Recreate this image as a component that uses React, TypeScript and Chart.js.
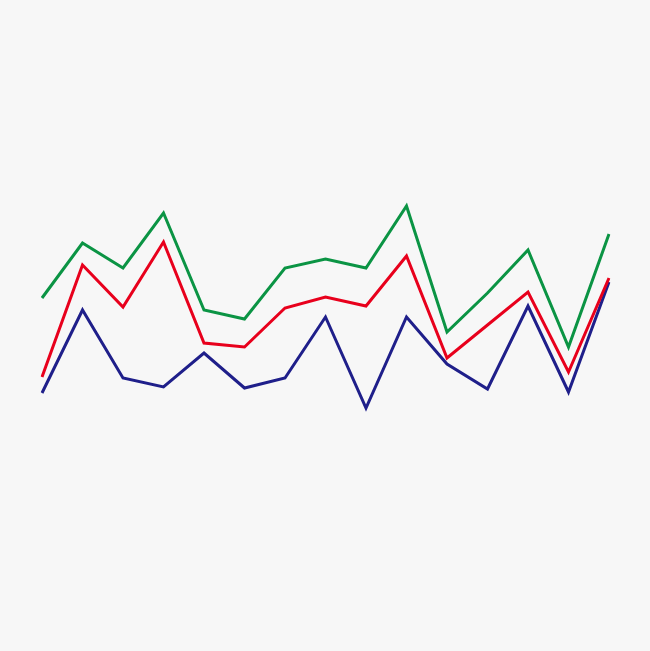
import React, { useRef, useEffect } from 'react';
import { Chart, registerables } from 'chart.js';

Chart.register(...registerables);

const labels = ['1', '2', '3', '4', '5', '6', '7', '8', '9', '10', '11', '12', '13', '14', '15'];
const greenValues = [353, 408, 383, 438, 341, 332, 383, 392, 383, 445, 319, 358, 401, 304, 417];
const redValues = [274, 386, 344, 409, 308, 304, 343, 354, 345, 395, 293, 326, 359, 279, 373];
const blueValues = [258, 341, 273, 264, 298, 263, 273, 334, 243, 334, 287, 262, 345, 259, 369];

const App: React.FC = () => {
  const chartRef = useRef<HTMLCanvasElement | null>(null);
  const chartInstance = useRef<Chart | null>(null);

  useEffect(() => {
    document.body.style.margin = '0';
    if (!chartRef.current) return;
    if (chartInstance.current) chartInstance.current.destroy();

    const line = (data: number[], color: string) => ({
      data,
      borderColor: color,
      borderWidth: 3,
      pointRadius: 0,
      fill: false,
      tension: 0,
      borderCapStyle: 'butt' as const,
      borderJoinStyle: 'miter' as const,
    });

    chartInstance.current = new Chart(chartRef.current, {
      type: 'line',
      data: {
        labels,
        datasets: [
          line(greenValues, '#0b9444'),
          line(redValues, '#e8001c'),
          line(blueValues, '#1f1f8a'),
        ],
      },
      options: {
        animation: false,
        responsive: true,
        maintainAspectRatio: false,
        layout: { padding: { left: 42, right: 41, top: 0, bottom: 0 } },
        plugins: {
          legend: { display: false },
          tooltip: { enabled: false },
        },
        scales: {
          x: { display: false, offset: false },
          y: { display: false, min: 0, max: 651 },
        },
      },
    });

    return () => {
      if (chartInstance.current) {
        chartInstance.current.destroy();
        chartInstance.current = null;
      }
    };
  }, []);

  return (
    <div style={{ position: 'fixed', left: 0, top: 0, width: '650px', height: '651px', background: '#f7f7f7' }}>
      <canvas ref={chartRef}></canvas>
    </div>
  );
};

export default App;
